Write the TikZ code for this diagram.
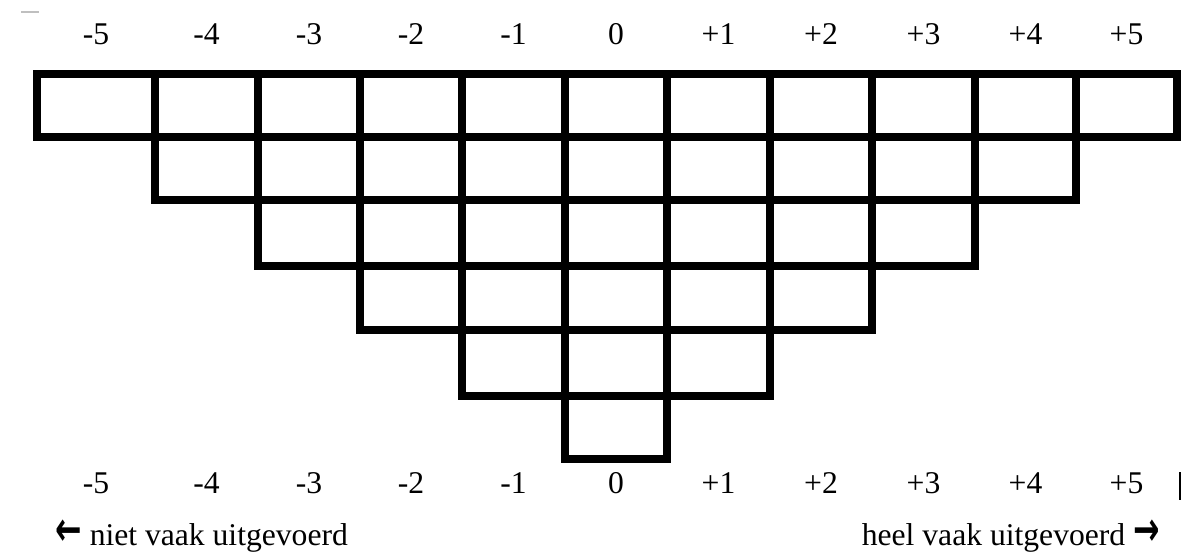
\documentclass[tikz,border=0pt]{standalone}
\usepackage{fontspec}
\usepackage{graphicx}
\setmainfont{Liberation Serif}
\newfontfamily\arrowfont{DejaVu Sans}
\usetikzlibrary{calc}

% Column and row edges, in pixels of the sheet
\def\colx{{37,155,258,360,462,565,667,770,872,975,1076,1177}}
\def\rowy{{74,137,200,266,330,396,459}}
\newcommand{\bigarrow}[1]{\scalebox{1}[1.5]{\arrowfont\bfseries #1}}

\begin{document}
\begin{tikzpicture}[
  x=0.02cm, y=-0.02cm,
  line cap=rect,
  every node/.style={font=\fontsize{18}{22}\selectfont, inner sep=0pt},
  cell/.style={draw=black, line width=4.5pt, line join=miter}
]
  \useasboundingbox (0,0) rectangle (1190,554);

  % Small mark top left
  \draw[gray!50, line width=1pt] (22,12) -- (38,12);

  % Grid: row r holds the columns r .. 10-r
  \foreach \r in {0,...,5}{
    \pgfmathtruncatemacro{\cfirst}{\r}
    \pgfmathtruncatemacro{\clast}{10-\r}
    \foreach \c in {\cfirst,...,\clast}{
      \pgfmathsetmacro{\xl}{\colx[\c]}
      \pgfmathsetmacro{\xr}{\colx[\c+1]}
      \pgfmathsetmacro{\yt}{\rowy[\r]}
      \pgfmathsetmacro{\yb}{\rowy[\r+1]}
      \draw[cell] (\xl,\yt) rectangle (\xr,\yb);
    }
  }

  % Scale labels above and below
  \foreach \lab [count=\i from 0] in {-5,-4,-3,-2,-1,0,+1,+2,+3,+4,+5}{
    \pgfmathsetmacro{\xa}{\colx[\i]}
    \pgfmathsetmacro{\xb}{\colx[\i+1]}
    \pgfmathsetmacro{\cx}{(\xa+\xb)/2}
    \node[anchor=base] (top\i) at (\cx,45) {\lab};
    \node[anchor=base] (bot\i) at (\cx,493) {\lab};
  }

  % Bar after the last bottom label
  \draw[black, line width=1pt] (1180,473) -- (1180,499);

  % Legend
  \node[anchor=base west] (rare) at (55,545)
    {\bigarrow{←} niet vaak uitgevoerd};
  \node[anchor=base east] (often) at (1160,545)
    {heel vaak uitgevoerd \bigarrow{→}};
\end{tikzpicture}
\end{document}
